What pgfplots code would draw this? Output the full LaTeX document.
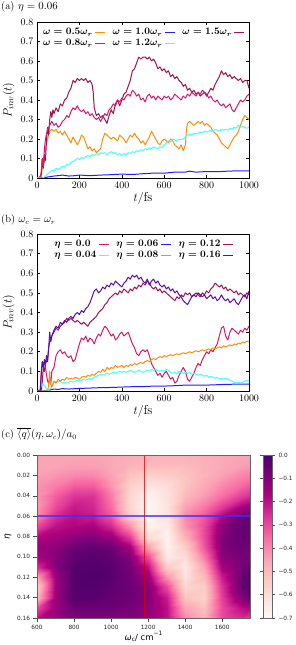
\documentclass[border=0pt]{standalone}
\usepackage{fontspec}
\newfontfamily\dejavu{DejaVu Sans}
\usepackage{amsmath}
\usepackage{pgfplots}
\pgfplotsset{compat=1.18}
\definecolor{cOrange}{RGB}{255,140,10}
\definecolor{cBlue}{RGB}{30,30,255}
\definecolor{cMaroon}{RGB}{160,18,82}
\definecolor{cPink}{RGB}{210,25,110}
\definecolor{cCyan}{RGB}{64,255,255}
\definecolor{cIndigo}{RGB}{88,12,170}

\pgfplotstableread{
x y v
600 0.00 -0.45
700 0.00 -0.45
800 0.00 -0.45
900 0.00 -0.45
1000 0.00 -0.46
1100 0.00 -0.47
1200 0.00 -0.48
1300 0.00 -0.48
1400 0.00 -0.48
1500 0.00 -0.47
1600 0.00 -0.46
1700 0.00 -0.45
1750 0.00 -0.45
600 0.01 -0.45
700 0.01 -0.45
800 0.01 -0.44
900 0.01 -0.44
1000 0.01 -0.46
1100 0.01 -0.48
1200 0.01 -0.50
1300 0.01 -0.50
1400 0.01 -0.50
1500 0.01 -0.48
1600 0.01 -0.46
1700 0.01 -0.44
1750 0.01 -0.43
600 0.02 -0.44
700 0.02 -0.42
800 0.02 -0.40
900 0.02 -0.40
1000 0.02 -0.45
1100 0.02 -0.52
1200 0.02 -0.56
1300 0.02 -0.55
1400 0.02 -0.52
1500 0.02 -0.48
1600 0.02 -0.44
1700 0.02 -0.40
1750 0.02 -0.38
600 0.03 -0.42
700 0.03 -0.38
800 0.03 -0.33
900 0.03 -0.33
1000 0.03 -0.42
1100 0.03 -0.56
1200 0.03 -0.63
1300 0.03 -0.60
1400 0.03 -0.52
1500 0.03 -0.46
1600 0.03 -0.40
1700 0.03 -0.35
1750 0.03 -0.32
600 0.04 -0.42
700 0.04 -0.33
800 0.04 -0.26
900 0.04 -0.26
1000 0.04 -0.38
1100 0.04 -0.58
1200 0.04 -0.68
1300 0.04 -0.62
1400 0.04 -0.50
1500 0.04 -0.43
1600 0.04 -0.36
1700 0.04 -0.28
1750 0.04 -0.25
600 0.05 -0.43
700 0.05 -0.30
800 0.05 -0.22
900 0.05 -0.24
1000 0.05 -0.36
1100 0.05 -0.58
1200 0.05 -0.70
1300 0.05 -0.62
1400 0.05 -0.45
1500 0.05 -0.38
1600 0.05 -0.28
1700 0.05 -0.18
1750 0.05 -0.15
600 0.06 -0.40
700 0.06 -0.25
800 0.06 -0.20
900 0.06 -0.22
1000 0.06 -0.32
1100 0.06 -0.55
1200 0.06 -0.70
1300 0.06 -0.62
1400 0.06 -0.40
1500 0.06 -0.32
1600 0.06 -0.18
1700 0.06 -0.08
1750 0.06 -0.06
600 0.07 -0.30
700 0.07 -0.20
800 0.07 -0.18
900 0.07 -0.17
1000 0.07 -0.24
1100 0.07 -0.42
1200 0.07 -0.68
1300 0.07 -0.65
1400 0.07 -0.42
1500 0.07 -0.30
1600 0.07 -0.12
1700 0.07 -0.05
1750 0.07 -0.05
600 0.08 -0.18
700 0.08 -0.16
800 0.08 -0.12
900 0.08 -0.10
1000 0.08 -0.14
1100 0.08 -0.28
1200 0.08 -0.60
1300 0.08 -0.68
1400 0.08 -0.48
1500 0.08 -0.30
1600 0.08 -0.10
1700 0.08 -0.05
1750 0.08 -0.06
600 0.09 -0.14
700 0.09 -0.12
800 0.09 -0.06
900 0.09 -0.05
1000 0.09 -0.06
1100 0.09 -0.16
1200 0.09 -0.45
1300 0.09 -0.68
1400 0.09 -0.55
1500 0.09 -0.32
1600 0.09 -0.10
1700 0.09 -0.06
1750 0.09 -0.08
600 0.10 -0.16
700 0.10 -0.10
800 0.10 -0.04
900 0.10 -0.03
1000 0.10 -0.04
1100 0.10 -0.10
1200 0.10 -0.30
1300 0.10 -0.65
1400 0.10 -0.60
1500 0.10 -0.38
1600 0.10 -0.12
1700 0.10 -0.08
1750 0.10 -0.08
600 0.11 -0.25
700 0.11 -0.10
800 0.11 -0.02
900 0.11 -0.02
1000 0.11 -0.03
1100 0.11 -0.08
1200 0.11 -0.20
1300 0.11 -0.55
1400 0.11 -0.64
1500 0.11 -0.45
1600 0.11 -0.16
1700 0.11 -0.08
1750 0.11 -0.05
600 0.12 -0.45
700 0.12 -0.14
800 0.12 -0.02
900 0.12 -0.01
1000 0.12 -0.03
1100 0.12 -0.07
1200 0.12 -0.14
1300 0.12 -0.42
1400 0.12 -0.62
1500 0.12 -0.50
1600 0.12 -0.22
1700 0.12 -0.06
1750 0.12 -0.02
600 0.13 -0.55
700 0.13 -0.15
800 0.13 -0.02
900 0.13 -0.02
1000 0.13 -0.04
1100 0.13 -0.06
1200 0.13 -0.10
1300 0.13 -0.30
1400 0.13 -0.58
1500 0.13 -0.55
1600 0.13 -0.26
1700 0.13 -0.06
1750 0.13 -0.01
600 0.14 -0.50
700 0.14 -0.14
800 0.14 -0.03
900 0.14 -0.03
1000 0.14 -0.05
1100 0.14 -0.07
1200 0.14 -0.10
1300 0.14 -0.22
1400 0.14 -0.52
1500 0.14 -0.56
1600 0.14 -0.28
1700 0.14 -0.12
1750 0.14 -0.05
600 0.15 -0.30
700 0.15 -0.14
800 0.15 -0.06
900 0.15 -0.06
1000 0.15 -0.06
1100 0.15 -0.08
1200 0.15 -0.12
1300 0.15 -0.20
1400 0.15 -0.45
1500 0.15 -0.52
1600 0.15 -0.30
1700 0.15 -0.20
1750 0.15 -0.18
600 0.16 -0.20
700 0.16 -0.15
800 0.16 -0.10
900 0.16 -0.10
1000 0.16 -0.10
1100 0.16 -0.10
1200 0.16 -0.14
1300 0.16 -0.20
1400 0.16 -0.40
1500 0.16 -0.48
1600 0.16 -0.30
1700 0.16 -0.25
1750 0.16 -0.28
}\heatdata

\pgfplotsset{
  lineaxis/.style={
    anchor=south west, scale only axis, width=212bp,
    xmin=0, xmax=1000, ymin=0, ymax=0.8,
    xtick={0,200,400,600,800,1000},
    xticklabels={0,200,400,600,800,1000},
    ytick={0,0.1,0.2,0.3,0.4,0.5,0.6,0.7,0.8},
    yticklabels={0,0.1,0.2,0.3,0.4,0.5,0.6,0.7,0.8},
    tick align=inside, tick style={black, line width=0.5pt},
    major tick length=3bp,
    ticklabel style={font=\fontsize{10}{12}\selectfont},
    axis line style={line width=0.9pt},
    xlabel={$t/\mathrm{fs}$}, ylabel={$P_{inv}(t)$},
    label style={font=\fontsize{13}{15}\selectfont},
    xlabel style={at={(axis description cs:0.5,0)}, anchor=base, yshift=-24bp},
    ylabel style={at={(axis description cs:-0.134,0.5)}, anchor=center},
    legend columns=3, legend plot pos=right, legend cell align=left,
    legend image code/.code={\draw[#1, line width=1.1pt] (0bp,0bp) -- (10bp,0bp);},
    legend style={draw=none, fill=none, font=\boldmath\fontsize{10}{12}\selectfont,
      at={(0.5,0.985)}, anchor=north, row sep=-1bp,
      /tikz/every even column/.append style={column sep=5bp}},
    every axis plot/.append style={line width=1pt, line join=round},
  }
}

\begin{document}
\begin{tikzpicture}
\useasboundingbox (0,0) rectangle (296bp,645bp);

\node[anchor=base west, font=\fontsize{10.5}{12}\selectfont, inner sep=0pt] at (1bp,635bp) {(a) $\eta = 0.06$};
\node[anchor=base west, font=\fontsize{10.5}{12}\selectfont, inner sep=0pt] at (1bp,422bp) {(b) $\omega_c = \omega_r$};
\node[anchor=base west, font=\fontsize{10.5}{12}\selectfont, inner sep=0pt] at (1bp,207bp) {(c) $\overline{\langle q\rangle}(\eta,\omega_c)/a_0$};

% ---------------- panel (a)
\begin{axis}[lineaxis, at={(37bp,467bp)}, height=156bp]
\addplot[cOrange] coordinates {(0,0)(20,0)(25,0.05)(30,0.10)(35,0.08)(40,0.15)(50,0.20)(60,0.24)(70,0.25)(80,0.24)(90,0.25)(100,0.23)(110,0.24)(120,0.22)(130,0.24)(140,0.22)(150,0.20)(160,0.18)(170,0.21)(180,0.19)(190,0.17)(200,0.19)(210,0.22)(220,0.21)(230,0.18)(240,0.15)(250,0.16)(260,0.14)(270,0.15)(280,0.13)(290,0.14)(300,0.15)(310,0.20)(320,0.23)(330,0.22)(340,0.21)(350,0.20)(360,0.21)(370,0.20)(380,0.19)(390,0.22)(400,0.21)(410,0.20)(420,0.18)(430,0.20)(440,0.22)(450,0.21)(460,0.23)(470,0.21)(480,0.20)(490,0.18)(500,0.19)(510,0.17)(520,0.19)(530,0.21)(540,0.24)(550,0.22)(560,0.20)(570,0.18)(580,0.17)(590,0.19)(600,0.20)(610,0.19)(620,0.18)(630,0.20)(640,0.19)(650,0.17)(660,0.16)(670,0.15)(680,0.17)(690,0.14)(700,0.17)(705,0.25)(710,0.28)(720,0.29)(730,0.28)(740,0.27)(750,0.28)(760,0.29)(770,0.28)(780,0.29)(790,0.27)(800,0.28)(810,0.27)(820,0.26)(830,0.24)(840,0.23)(850,0.22)(860,0.20)(870,0.18)(880,0.17)(890,0.16)(900,0.15)(910,0.17)(920,0.19)(930,0.21)(940,0.22)(950,0.24)(960,0.27)(970,0.30)(980,0.32)(990,0.31)(1000,0.30)};
\addlegendentry{$\omega = 0.5\omega_r$}
\addplot[cBlue] coordinates {(0,0)(30,0)(50,0.005)(80,0.01)(100,0.012)(120,0.015)(150,0.01)(180,0.012)(200,0.015)(250,0.012)(300,0.015)(350,0.017)(400,0.02)(450,0.018)(500,0.022)(550,0.025)(600,0.025)(650,0.03)(700,0.03)(720,0.035)(750,0.03)(800,0.033)(850,0.032)(900,0.035)(950,0.037)(1000,0.037)};
\addlegendentry{$\omega = 1.0\omega_r$}
\addplot[cMaroon] coordinates {(0,0)(10,0)(20,0.02)(25,0.10)(30,0.05)(35,0.12)(40,0.09)(45,0.20)(50,0.26)(55,0.22)(60,0.30)(65,0.34)(70,0.31)(75,0.35)(80,0.33)(90,0.36)(100,0.34)(110,0.38)(120,0.37)(130,0.40)(140,0.41)(150,0.44)(160,0.46)(170,0.50)(180,0.49)(190,0.51)(200,0.50)(210,0.51)(220,0.50)(230,0.51)(240,0.49)(250,0.50)(260,0.48)(265,0.44)(270,0.36)(280,0.32)(290,0.33)(300,0.31)(310,0.32)(320,0.30)(330,0.28)(340,0.32)(350,0.35)(360,0.33)(370,0.38)(380,0.40)(390,0.37)(400,0.40)(410,0.43)(420,0.44)(430,0.47)(440,0.50)(450,0.55)(460,0.56)(470,0.59)(480,0.62)(490,0.61)(500,0.62)(510,0.62)(520,0.61)(530,0.62)(540,0.60)(550,0.61)(560,0.59)(570,0.56)(580,0.57)(590,0.55)(600,0.56)(610,0.54)(620,0.55)(630,0.52)(640,0.53)(650,0.51)(660,0.52)(670,0.50)(680,0.49)(690,0.47)(700,0.48)(710,0.45)(720,0.46)(730,0.44)(740,0.45)(750,0.43)(760,0.44)(770,0.42)(780,0.43)(790,0.44)(800,0.42)(810,0.44)(820,0.46)(830,0.45)(840,0.48)(850,0.50)(860,0.52)(870,0.55)(880,0.53)(890,0.54)(900,0.52)(910,0.53)(920,0.51)(930,0.52)(940,0.51)(950,0.50)(960,0.51)(970,0.49)(980,0.50)(990,0.50)(1000,0.46)};
\addlegendentry{$\omega = 1.5\omega_r$}
\addplot[cPink] coordinates {(0,0)(15,0)(20,0.03)(25,0.10)(30,0.06)(35,0.15)(40,0.20)(50,0.25)(60,0.27)(70,0.29)(80,0.27)(90,0.28)(100,0.26)(110,0.27)(120,0.29)(130,0.30)(140,0.32)(150,0.31)(160,0.34)(170,0.36)(180,0.35)(190,0.37)(200,0.35)(210,0.34)(220,0.35)(230,0.33)(240,0.34)(250,0.32)(260,0.33)(270,0.31)(280,0.30)(290,0.31)(300,0.29)(310,0.31)(320,0.33)(330,0.32)(340,0.35)(350,0.36)(360,0.38)(370,0.37)(380,0.40)(390,0.39)(400,0.41)(410,0.40)(420,0.42)(430,0.43)(440,0.42)(450,0.45)(460,0.44)(470,0.42)(480,0.43)(490,0.40)(500,0.41)(510,0.39)(520,0.42)(530,0.43)(540,0.41)(550,0.42)(560,0.40)(570,0.42)(580,0.41)(590,0.40)(600,0.42)(610,0.41)(620,0.42)(630,0.40)(640,0.41)(650,0.43)(660,0.42)(670,0.41)(680,0.40)(690,0.42)(700,0.41)(710,0.43)(720,0.42)(730,0.44)(740,0.43)(750,0.42)(760,0.44)(770,0.43)(780,0.45)(790,0.44)(800,0.43)(810,0.41)(820,0.42)(830,0.40)(840,0.39)(850,0.40)(860,0.38)(870,0.37)(880,0.38)(890,0.36)(900,0.37)(910,0.38)(920,0.35)(930,0.34)(940,0.36)(950,0.38)(960,0.40)(970,0.39)(980,0.40)(990,0.42)(1000,0.43)};
\addlegendentry{$\omega = 0.8\omega_r$}
\addplot[cCyan] coordinates {(0,0)(30,0)(40,0.01)(50,0.02)(60,0.03)(70,0.04)(80,0.035)(90,0.05)(100,0.045)(110,0.05)(120,0.06)(130,0.055)(140,0.07)(150,0.065)(160,0.08)(170,0.085)(180,0.09)(190,0.10)(200,0.095)(210,0.105)(220,0.10)(230,0.11)(240,0.115)(250,0.11)(260,0.12)(270,0.115)(280,0.125)(290,0.12)(300,0.13)(310,0.125)(320,0.13)(330,0.12)(340,0.13)(350,0.135)(360,0.125)(370,0.13)(380,0.12)(390,0.125)(400,0.115)(410,0.125)(420,0.12)(430,0.13)(440,0.125)(450,0.135)(460,0.13)(470,0.14)(480,0.135)(490,0.145)(500,0.14)(510,0.15)(520,0.145)(530,0.155)(540,0.15)(550,0.16)(560,0.155)(570,0.15)(580,0.16)(590,0.155)(600,0.17)(610,0.18)(620,0.19)(630,0.185)(640,0.20)(650,0.195)(660,0.19)(670,0.20)(680,0.195)(690,0.20)(700,0.21)(710,0.22)(720,0.225)(730,0.22)(740,0.23)(750,0.225)(760,0.23)(770,0.235)(780,0.23)(790,0.24)(800,0.235)(810,0.24)(820,0.245)(830,0.24)(840,0.25)(850,0.245)(860,0.24)(870,0.25)(880,0.245)(890,0.25)(900,0.245)(910,0.255)(920,0.25)(930,0.26)(940,0.255)(950,0.27)(960,0.26)(970,0.265)(980,0.26)(990,0.255)(1000,0.26)};
\addlegendentry{$\omega = 1.2\omega_r$}
\end{axis}

% ---------------- panel (b)
\begin{axis}[lineaxis, at={(37bp,254bp)}, height=157bp]
\addplot[cPink] coordinates {(0,0)(15,0)(20,0.10)(25,0.15)(30,0.13)(35,0.15)(40,0.12)(45,0.08)(50,0.05)(55,0.04)(60,0.07)(65,0.04)(70,0.10)(80,0.12)(90,0.18)(100,0.20)(110,0.21)(120,0.19)(130,0.20)(140,0.18)(150,0.17)(160,0.18)(170,0.15)(180,0.16)(190,0.20)(200,0.24)(210,0.27)(220,0.26)(230,0.28)(240,0.25)(250,0.27)(260,0.26)(270,0.24)(280,0.27)(290,0.29)(300,0.28)(310,0.31)(320,0.33)(330,0.32)(340,0.30)(350,0.28)(360,0.29)(370,0.26)(380,0.27)(390,0.29)(400,0.30)(410,0.28)(420,0.29)(430,0.30)(440,0.27)(450,0.24)(460,0.22)(470,0.19)(480,0.18)(490,0.20)(500,0.21)(510,0.20)(520,0.21)(530,0.18)(540,0.14)(550,0.12)(560,0.10)(570,0.08)(580,0.09)(590,0.07)(600,0.09)(610,0.10)(620,0.08)(630,0.06)(640,0.07)(650,0.04)(660,0.05)(670,0.08)(680,0.10)(690,0.12)(700,0.10)(710,0.06)(720,0.05)(730,0.07)(740,0.09)(750,0.12)(760,0.14)(770,0.13)(780,0.16)(790,0.18)(800,0.20)(810,0.19)(820,0.21)(830,0.20)(840,0.22)(850,0.24)(860,0.28)(870,0.32)(880,0.33)(890,0.28)(900,0.26)(910,0.30)(920,0.32)(930,0.31)(940,0.30)(950,0.29)(960,0.31)(970,0.30)(980,0.32)(990,0.31)(1000,0.33)};
\addlegendentry{$\eta = 0.0$}
\addplot[cBlue] coordinates {(0,0)(40,0)(60,0.005)(80,0.01)(100,0.008)(120,0.012)(150,0.01)(200,0.013)(250,0.015)(300,0.017)(350,0.018)(400,0.02)(450,0.022)(500,0.022)(550,0.025)(600,0.025)(650,0.027)(700,0.03)(750,0.03)(800,0.03)(850,0.032)(900,0.034)(950,0.035)(1000,0.035)};
\addlegendentry{$\eta = 0.06$}
\addplot[cMaroon] coordinates {(0,0)(20,0)(25,0.05)(30,0.12)(35,0.10)(40,0.14)(50,0.16)(55,0.22)(60,0.25)(70,0.28)(80,0.30)(90,0.32)(100,0.31)(110,0.33)(120,0.34)(130,0.35)(140,0.37)(150,0.36)(160,0.37)(170,0.36)(180,0.35)(190,0.36)(200,0.35)(210,0.34)(220,0.35)(230,0.34)(240,0.33)(250,0.35)(260,0.36)(270,0.37)(280,0.38)(290,0.40)(300,0.41)(310,0.42)(320,0.44)(330,0.45)(340,0.47)(350,0.48)(360,0.49)(370,0.50)(380,0.49)(390,0.51)(400,0.50)(410,0.52)(420,0.51)(430,0.50)(440,0.52)(450,0.51)(460,0.53)(470,0.52)(480,0.54)(490,0.53)(500,0.55)(510,0.54)(520,0.56)(530,0.55)(540,0.53)(550,0.52)(560,0.53)(570,0.51)(580,0.52)(590,0.50)(600,0.51)(610,0.50)(620,0.49)(630,0.48)(640,0.47)(650,0.46)(660,0.48)(670,0.47)(680,0.49)(690,0.48)(700,0.50)(710,0.49)(720,0.50)(730,0.48)(740,0.49)(750,0.50)(760,0.49)(770,0.48)(780,0.50)(790,0.49)(800,0.51)(810,0.50)(820,0.52)(830,0.53)(840,0.55)(850,0.54)(860,0.53)(870,0.54)(880,0.52)(890,0.53)(900,0.51)(910,0.52)(920,0.51)(930,0.50)(940,0.51)(950,0.49)(960,0.50)(970,0.49)(980,0.48)(990,0.50)(1000,0.49)};
\addlegendentry{$\eta = 0.12$}
\addplot[cCyan] coordinates {(0,0)(15,0.01)(20,0.03)(30,0.035)(40,0.02)(50,0.0)(60,0.01)(70,0.02)(80,0.04)(90,0.05)(100,0.045)(110,0.05)(120,0.04)(130,0.045)(140,0.04)(150,0.045)(160,0.05)(170,0.045)(180,0.05)(190,0.055)(200,0.05)(210,0.055)(220,0.06)(230,0.055)(240,0.06)(250,0.065)(260,0.06)(270,0.07)(280,0.075)(290,0.08)(300,0.085)(310,0.08)(320,0.085)(330,0.09)(340,0.085)(350,0.09)(360,0.095)(370,0.09)(380,0.095)(390,0.10)(400,0.095)(410,0.10)(420,0.095)(430,0.10)(440,0.105)(450,0.10)(460,0.095)(470,0.10)(480,0.105)(490,0.10)(500,0.095)(510,0.10)(520,0.105)(530,0.10)(540,0.11)(550,0.105)(560,0.11)(570,0.105)(580,0.10)(590,0.105)(600,0.10)(610,0.11)(620,0.105)(630,0.095)(640,0.09)(650,0.095)(660,0.09)(670,0.10)(680,0.095)(690,0.09)(700,0.095)(710,0.09)(720,0.095)(730,0.085)(740,0.09)(750,0.085)(760,0.08)(770,0.085)(780,0.08)(790,0.075)(800,0.08)(810,0.07)(820,0.075)(830,0.07)(840,0.065)(850,0.07)(860,0.06)(870,0.065)(880,0.06)(890,0.065)(900,0.06)(910,0.055)(920,0.05)(930,0.045)(940,0.04)(950,0.045)(960,0.04)(970,0.045)(980,0.05)(990,0.055)(1000,0.05)};
\addlegendentry{$\eta = 0.04$}
\addplot[cOrange] coordinates {(0,0)(50,0)(55,0.03)(60,0.10)(63,0.04)(70,0.02)(80,0.05)(90,0.04)(100,0.06)(110,0.05)(120,0.06)(130,0.055)(140,0.07)(150,0.06)(160,0.065)(170,0.06)(180,0.07)(190,0.065)(200,0.06)(210,0.07)(220,0.075)(230,0.07)(240,0.08)(250,0.075)(260,0.085)(270,0.08)(280,0.09)(290,0.10)(300,0.095)(310,0.11)(320,0.10)(330,0.12)(340,0.11)(350,0.12)(360,0.115)(370,0.13)(380,0.12)(390,0.125)(400,0.13)(410,0.12)(420,0.13)(430,0.125)(440,0.135)(450,0.13)(460,0.14)(470,0.135)(480,0.14)(490,0.145)(500,0.14)(510,0.15)(520,0.155)(530,0.15)(540,0.16)(550,0.165)(560,0.16)(570,0.17)(580,0.175)(590,0.17)(600,0.18)(610,0.175)(620,0.18)(630,0.185)(640,0.18)(650,0.185)(660,0.19)(670,0.185)(680,0.19)(690,0.195)(700,0.19)(710,0.195)(720,0.20)(730,0.195)(740,0.20)(750,0.205)(760,0.20)(770,0.205)(780,0.21)(790,0.205)(800,0.21)(810,0.215)(820,0.21)(830,0.22)(840,0.215)(850,0.22)(860,0.225)(870,0.22)(880,0.23)(890,0.225)(900,0.23)(910,0.235)(920,0.23)(930,0.24)(940,0.235)(950,0.245)(960,0.24)(970,0.25)(980,0.245)(990,0.255)(1000,0.25)};
\addlegendentry{$\eta = 0.08$}
\addplot[cIndigo] coordinates {(0,0)(15,0)(20,0.08)(25,0.15)(30,0.12)(35,0.16)(40,0.14)(45,0.18)(50,0.15)(55,0.22)(60,0.30)(65,0.25)(70,0.28)(80,0.31)(90,0.33)(100,0.32)(110,0.35)(120,0.34)(130,0.36)(140,0.35)(150,0.37)(160,0.38)(170,0.37)(180,0.39)(190,0.40)(200,0.39)(210,0.41)(220,0.40)(230,0.42)(240,0.43)(250,0.45)(260,0.48)(270,0.51)(280,0.52)(290,0.50)(300,0.51)(310,0.53)(320,0.52)(330,0.54)(340,0.53)(350,0.55)(360,0.54)(370,0.56)(380,0.55)(390,0.54)(400,0.53)(410,0.55)(420,0.56)(430,0.58)(440,0.57)(450,0.59)(460,0.58)(470,0.59)(480,0.57)(490,0.58)(500,0.56)(510,0.55)(520,0.57)(530,0.54)(540,0.56)(550,0.57)(560,0.55)(570,0.56)(580,0.54)(590,0.53)(600,0.54)(610,0.52)(620,0.53)(630,0.51)(640,0.52)(650,0.50)(660,0.51)(670,0.49)(680,0.48)(690,0.46)(700,0.45)(710,0.44)(720,0.46)(730,0.48)(740,0.49)(750,0.48)(760,0.50)(770,0.49)(780,0.48)(790,0.49)(800,0.47)(810,0.48)(820,0.49)(830,0.47)(840,0.48)(850,0.46)(860,0.47)(870,0.49)(880,0.47)(890,0.46)(900,0.47)(910,0.45)(920,0.46)(930,0.47)(940,0.45)(950,0.44)(960,0.46)(970,0.48)(980,0.49)(990,0.47)(1000,0.51)};
\addlegendentry{$\eta = 0.16$}
\end{axis}

% ---------------- panel (c)
\begin{axis}[at={(37bp,27bp)}, anchor=south west, scale only axis,
  width=213bp, height=163bp,
  xmin=600, xmax=1750, ymin=0, ymax=0.16, y dir=reverse,
  enlargelimits=false, axis on top,
  colormap={rdpu}{rgb255=(255,247,243) rgb255=(253,224,221) rgb255=(252,197,192) rgb255=(250,159,181) rgb255=(247,104,161) rgb255=(221,52,151) rgb255=(174,1,126) rgb255=(122,1,119) rgb255=(73,0,106)},
  point meta min=-0.7, point meta max=0,
  xtick={600,800,1000,1200,1400,1600},
  xticklabels={600,800,1000,1200,1400,1600},
  ytick={0,0.02,0.04,0.06,0.08,0.10,0.12,0.14,0.16},
  yticklabels={0.00,0.02,0.04,0.06,0.08,0.10,0.12,0.14,0.16},
  xtick pos=bottom, ytick pos=left,
  tick align=outside, major tick length=3.5bp, tick style={black!70, line width=0.5pt},
  ticklabel style={font=\dejavu\fontsize{5.8}{7}\selectfont, black!85},
  axis line style={black!60, line width=0.6pt},
  xlabel={\dejavu\textit{ω}\raisebox{-0.35ex}{\fontsize{6}{7}\selectfont c}/ cm\raisebox{0.9ex}{\fontsize{6}{7}\selectfont −1}},
  xlabel style={font=\fontsize{8.5}{10}\selectfont, at={(axis description cs:0.5,0)}, anchor=base, yshift=-22bp},
  ylabel={\dejavu\textit{η}},
  ylabel style={font=\fontsize{9}{10}\selectfont, at={(axis description cs:-0.136,0.5)}, anchor=center},
  colorbar,
  colorbar style={at={(parent axis.north east)}, anchor=north west, xshift=4.5bp,
    width=9bp, height=163bp,
    ytick={-0.7,-0.6,-0.5,-0.4,-0.3,-0.2,-0.1,0},
    yticklabels={−0.7,−0.6,−0.5,−0.4,−0.3,−0.2,−0.1,0.0},
    yticklabel style={font=\dejavu\fontsize{5.8}{7}\selectfont, black!85},
    tick align=outside, major tick length=3bp, tick style={black!70, line width=0.5pt},
    axis line style={black!60, line width=0.6pt}},
]
\addplot[surf, shader=interp, mesh/cols=13, point meta=explicit] table[x=x, y=y, meta=v] {\heatdata};
\addplot[red!85!black, opacity=0.75, line width=1.1pt] coordinates {(1180,0)(1180,0.16)};
\addplot[blue!80!white, opacity=0.75, line width=1.4pt] coordinates {(600,0.06)(1750,0.06)};
\end{axis}
\end{tikzpicture}
\end{document}
